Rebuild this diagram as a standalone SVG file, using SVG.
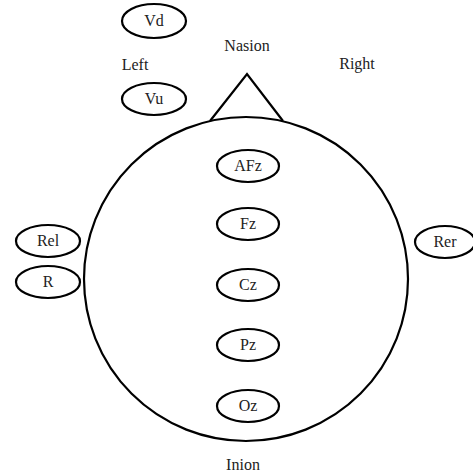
<svg xmlns="http://www.w3.org/2000/svg" width="473" height="474" viewBox="0 0 473 474">
<style>
.sh{fill:none;stroke:#000;stroke-width:2.2}
.el{fill:#fff;stroke:#000;stroke-width:2.2}
text{font-family:"Liberation Serif","Times New Roman",serif;font-size:16px;fill:#222;text-anchor:middle}
</style>
<rect width="473" height="474" fill="#fff"/>
<g id="head">
<circle class="sh" cx="246" cy="279" r="162"/>
<polyline class="sh" points="210,121 247,74 283,121"/>
</g>
<g id="labels">
<text x="247" y="51">Nasion</text>
<text x="135" y="70">Left</text>
<text x="357" y="69">Right</text>
<text x="243" y="470">Inion</text>
</g>
<g id="connectors"></g>
<g id="Vd"><ellipse class="el" cx="154" cy="21" rx="32" ry="17"/><text x="154" y="26">Vd</text></g>
<g id="Vu"><ellipse class="el" cx="154" cy="99" rx="32" ry="16"/><text x="154" y="104">Vu</text></g>
<g id="AFz"><ellipse class="el" cx="248" cy="166" rx="31" ry="16"/><text x="248" y="171">AFz</text></g>
<g id="Fz"><ellipse class="el" cx="248" cy="224" rx="31" ry="16"/><text x="248" y="229">Fz</text></g>
<g id="Cz"><ellipse class="el" cx="248" cy="285" rx="31" ry="16"/><text x="248" y="290">Cz</text></g>
<g id="Pz"><ellipse class="el" cx="248" cy="345" rx="31" ry="16"/><text x="248" y="350">Pz</text></g>
<g id="Oz"><ellipse class="el" cx="248" cy="406" rx="31" ry="16"/><text x="248" y="411">Oz</text></g>
<g id="Rel"><ellipse class="el" cx="48" cy="241" rx="32" ry="16"/><text x="48" y="246">Rel</text></g>
<g id="R"><ellipse class="el" cx="48" cy="282" rx="32" ry="16"/><text x="48" y="287">R</text></g>
<g id="Rer"><ellipse class="el" cx="445" cy="242" rx="30" ry="16"/><text x="445" y="247">Rer</text></g>
</svg>
